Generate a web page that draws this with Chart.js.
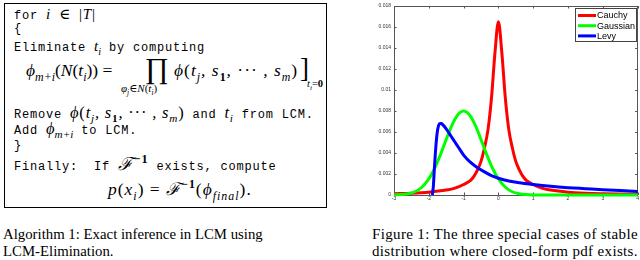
<!DOCTYPE html>
<html><head><meta charset="utf-8">
<script src="https://cdn.jsdelivr.net/npm/chart.js@4.4.0/dist/chart.umd.min.js"></script>
<style>
html,body{margin:0;padding:0;background:#fff;width:640px;height:260px;overflow:hidden;}
.abs{position:absolute;white-space:nowrap;}
.mono{font-family:"Liberation Mono","DejaVu Sans Mono",monospace;font-size:12px;letter-spacing:0.8px;line-height:16px;color:#000;}
.m{font-family:"Liberation Serif","DejaVu Serif",serif;font-style:italic;font-size:16.5px;letter-spacing:0.8px;}
.r{font-family:"Liberation Serif","DejaVu Serif",serif;font-style:normal;}
sub,sup{font-size:68%;line-height:0;}
.cap{font-family:"Liberation Serif",serif;font-size:14.8px;line-height:17px;color:#000;}
#chartWrap{position:absolute;left:345px;top:0;width:295px;height:205px;}
</style></head>
<body>
<div class="abs" style="left:4px;top:3px;width:321px;height:203px;border:1px solid #000;"></div>

<div class="abs mono" style="left:14px;top:6px;">for <span class="m" style="font-size:15px">i</span> <span class="r" style="font-size:15px">∈</span> <span class="r" style="font-size:15px">|</span><span class="m" style="font-size:15px">T</span><span class="r" style="font-size:15px">|</span></div>
<div class="abs mono" style="left:14px;top:21px;">{</div>
<div class="abs mono" style="left:14px;top:38px;">Eliminate <span class="m" style="font-size:15px;letter-spacing:0">t<sub>i</sub></span> by computing</div>

<div class="abs m" style="left:26px;top:60px;font-size:17.5px;line-height:20px;letter-spacing:0">ϕ<sub>m+i</sub><span class="r">(</span>N<span class="r">(</span>t<sub>i</sub><span class="r">))</span> <span class="r">=</span></div>
<div class="abs r" style="left:145px;top:53px;font-size:29px;line-height:31px">∏</div>
<div class="abs m" style="left:121px;top:82px;font-size:11px;line-height:12px;letter-spacing:0">φ<sub>j</sub><span class="r">∈</span>N<span class="r">(</span>t<sub>i</sub><span class="r">)</span></div>
<div class="abs m" style="left:174px;top:60px;font-size:17.5px;line-height:20px;letter-spacing:1px">ϕ<span class="r">(</span>t<sub>j</sub>, s<sub><b class="r">1</b></sub>, <span class="r">···</span> , s<sub>m</sub><span class="r">)</span></div>
<div class="abs r" style="left:300px;top:54px;font-size:27px;line-height:29px">]</div>
<div class="abs m" style="left:307px;top:78px;font-size:10.5px;line-height:12px;letter-spacing:0">t<sub>i</sub><span class="r">=</span><b class="r">0</b></div>

<div class="abs mono" style="left:14px;top:105px;">Remove <span class="m">ϕ<span class="r">(</span>t<sub>j</sub>, s<sub><b class="r">1</b></sub>, <span class="r">···</span> , s<sub>m</sub><span class="r">)</span></span> and <span class="m">t<sub>i</sub></span> from LCM.</div>
<div class="abs mono" style="left:14px;top:121px;">Add <span class="m" style="letter-spacing:0">ϕ<sub>m+i</sub></span> to LCM.</div>
<div class="abs mono" style="left:14px;top:138px;">}</div>
<div class="abs mono" style="left:14px;top:156px;">Finally:&nbsp; If <span class="m" style="font-size:18px">ℱ<sup class="r"><b>−1</b></sup></span> exists, compute</div>
<div class="abs m" style="left:108px;top:179px;font-size:17.5px;line-height:20px;letter-spacing:1px">p<span class="r">(</span>x<sub>i</sub><span class="r">) = </span>ℱ<sup class="r"><b>−1</b></sup><span class="r">(</span>ϕ<sub>final</sub><span class="r">).</span></div>

<div class="abs cap" style="left:3px;top:226px;">Algorithm 1: Exact inference in LCM using<br>LCM-Elimination.</div>
<div class="abs cap" style="left:372px;top:226px;font-size:15px;letter-spacing:0.35px;">Figure 1: The three special cases of stable<br>distribution where closed-form pdf exists.</div>

<div id="chartWrap"><canvas id="c" width="295" height="205"></canvas></div>

<script>
const xTickValues = [-3,-2,-1,0,1,2,3,4];
const yTickValues = [0,0.002,0.004,0.006,0.008,0.01,0.012,0.014,0.016,0.018];
const seriesNames = ['Cauchy','Gaussian','Levy'];
const seriesColors = ['#ff0000','#00ff00','#0000ff'];

const cauchyX = [-3,-2.5,-2,-1.5,-1.25,-1,-0.8,-0.7,-0.6,-0.5,-0.4,-0.3,-0.2,-0.1,0,0.1,0.2,0.3,0.4,0.5,0.6,0.7,0.8,1,1.25,1.5,2,2.5,3,3.5,4];
const cauchyY = [0.00012,0.00017,0.00027,0.00047,0.00065,0.001,0.0014,0.0018,0.0024,0.0032,0.0045,0.0062,0.0092,0.0135,0.0165,0.0135,0.0092,0.0062,0.0045,0.0032,0.0024,0.0018,0.0014,0.001,0.00065,0.00047,0.00027,0.00017,0.00012,0.00009,0.00007];

const gaussX = [-3,-2.8,-2.6,-2.4,-2.2,-2.0,-1.9,-1.8,-1.7,-1.6,-1.5,-1.4,-1.3,-1.2,-1.1,-1.0,-0.9,-0.8,-0.7,-0.6,-0.5,-0.4,-0.3,-0.2,-0.1,0,0.2,0.4,0.6,0.8,1,1.5,2,2.5,3,3.5,4];
const gaussY = [0.00001,0.00004,0.00012,0.00031,0.00074,0.00153,0.0021,0.00278,0.00356,0.00441,0.00529,0.00614,0.0069,0.00749,0.00787,0.008,0.00787,0.00749,0.0069,0.00614,0.00529,0.00441,0.00356,0.00278,0.0021,0.00153,0.00074,0.00031,0.00012,0.00004,0.00001,0,0,0,0,0,0];

const levyX = [-1.9,-1.87,-1.84,-1.8,-1.76,-1.72,-1.68,-1.64,-1.6,-1.5,-1.4,-1.3,-1.2,-1.1,-1.0,-0.8,-0.6,-0.4,-0.2,0,0.3,0.6,1,1.5,2,2.5,3,3.5,4];
const levyY = [0,0.0008,0.0025,0.0045,0.0059,0.0066,0.0068,0.0068,0.0067,0.0063,0.0058,0.0053,0.0048,0.0043,0.0038,0.0031,0.0026,0.0022,0.00185,0.0016,0.00133,0.00116,0.001,0.00083,0.0007,0.0006,0.0005,0.00042,0.00034];

const toPts = (xs, ys) => xs.map((x, i) => ({x: x, y: ys[i]}));
const seriesX = [cauchyX, gaussX, levyX];
const seriesY = [cauchyY, gaussY, levyY];

const fmt = v => v === 0 ? '0' : String(+v.toFixed(3));

const axesBox = {
  id: 'axesBox',
  beforeDatasetsDraw(chart) {
    const {ctx, chartArea: a, scales: {x, y}} = chart;
    ctx.save();
    ctx.strokeStyle = '#555';
    ctx.lineWidth = 1;
    ctx.strokeRect(Math.round(a.left) + 0.5, Math.round(a.top) + 0.5, Math.round(a.right - a.left) - 1, Math.round(a.bottom - a.top));
    ctx.beginPath();
    xTickValues.forEach(v => {
      const px = Math.round(x.getPixelForValue(v)) + 0.5;
      ctx.moveTo(px, a.bottom); ctx.lineTo(px, a.bottom - 2.5);
      ctx.moveTo(px, a.top); ctx.lineTo(px, a.top + 2.5);
    });
    yTickValues.forEach(v => {
      const py = Math.round(y.getPixelForValue(v)) + 0.5;
      ctx.moveTo(a.left, py); ctx.lineTo(a.left + 2.5, py);
      ctx.moveTo(a.right, py); ctx.lineTo(a.right - 2.5, py);
    });
    ctx.stroke();
    ctx.restore();
  }
};

const legendBox = {
  id: 'legendBox',
  afterDraw(chart) {
    const ctx = chart.ctx, a = chart.chartArea;
    const bx = Math.round(a.right) - 63, by = Math.round(a.top) + 2, bw = 62, bh = 34;
    ctx.save();
    ctx.fillStyle = '#fff';
    ctx.fillRect(bx, by, bw, bh);
    ctx.strokeStyle = '#444';
    ctx.lineWidth = 1;
    ctx.strokeRect(bx + 0.5, by + 0.5, bw - 1, bh - 1);
    ctx.font = '9px "Liberation Sans", Arial, sans-serif';
    ctx.textBaseline = 'middle';
    chart.data.datasets.forEach((ds, i) => {
      const cy = by + 7.5 + i * 10.2;
      ctx.strokeStyle = ds.borderColor;
      ctx.lineWidth = 3;
      ctx.beginPath();
      ctx.moveTo(bx + 3, cy); ctx.lineTo(bx + 21, cy);
      ctx.stroke();
      ctx.fillStyle = '#000';
      ctx.fillText(ds.label, bx + 22, cy + 0.5);
    });
    ctx.restore();
  }
};

new Chart(document.getElementById('c'), {
  type: 'scatter',
  data: {
    datasets: seriesNames.map((name, i) => ({
      label: name,
      data: toPts(seriesX[i], seriesY[i]),
      showLine: true,
      borderColor: seriesColors[i],
      backgroundColor: seriesColors[i],
      borderWidth: 3,
      pointRadius: 0,
      cubicInterpolationMode: 'monotone',
      fill: false,
      clip: 4,
      order: 2 - i
    }))
  },
  options: {
    responsive: false,
    animation: false,
    devicePixelRatio: 1,
    layout: {padding: {left: 0, top: 3, right: 2, bottom: 0}},
    plugins: {legend: {display: false}, tooltip: {enabled: false}},
    scales: {
      x: {
        type: 'linear', min: -3, max: 4,
        grid: {display: false, drawTicks: false},
        border: {display: false},
        afterBuildTicks: s => { s.ticks = xTickValues.map(v => ({value: v})); },
        afterFit: s => { s.height = 10; },
        ticks: {autoSkip: false, maxRotation: 0, padding: 1, color: '#333', font: {size: 5, family: '"Liberation Sans", Arial'}, callback: v => fmt(v)}
      },
      y: {
        type: 'linear', min: 0, max: 0.018,
        grid: {display: false, drawTicks: false},
        border: {display: false},
        afterBuildTicks: s => { s.ticks = yTickValues.map(v => ({value: v})); },
        afterFit: s => { s.width = 49; },
        ticks: {autoSkip: false, padding: 3, color: '#333', font: {size: 5, family: '"Liberation Sans", Arial'}, callback: v => fmt(v)}
      }
    }
  },
  plugins: [axesBox, legendBox]
});
</script>
</body></html>
